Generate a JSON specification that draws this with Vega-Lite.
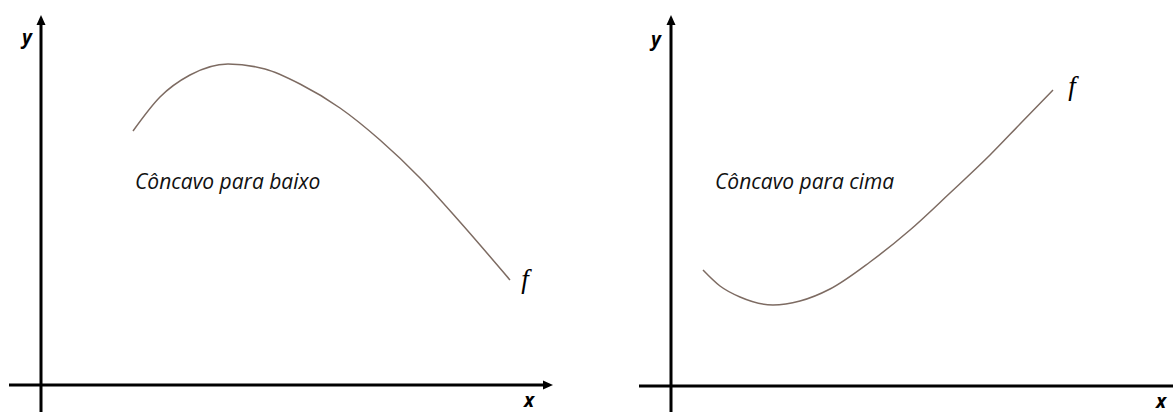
{
  "$schema": "https://vega.github.io/schema/vega-lite/v6.json",
  "padding": 0,
  "spacing": 0,
  "background": "white",
  "config": {"view": {"stroke": null}},
  "hconcat": [
    {
      "width": 600,
      "height": 412,
      "encoding": {
        "x": {"field": "x", "type": "quantitative", "scale": {"domain": [-1.025, 13.975], "nice": false, "zero": false}, "axis": null},
        "y": {"field": "y", "type": "quantitative", "scale": {"domain": [-0.675, 9.625], "nice": false, "zero": false}, "axis": null}
      },
      "layer": [
        {
          "data": {"values": [
            {"x": -0.8, "y": 0, "x2": 12.6, "y2": 0},
            {"x": 0, "y": -0.675, "x2": 0, "y2": 9.1}
          ]},
          "mark": {"type": "rule", "color": "black", "strokeWidth": 3},
          "encoding": {"x2": {"field": "x2"}, "y2": {"field": "y2"}}
        },
        {
          "data": {"values": [{"x": 12.675, "y": 0}]},
          "mark": {"type": "point", "shape": "M-1,-0.9L1,0L-1,0.9Z", "filled": true, "color": "black", "opacity": 1, "size": 100}
        },
        {
          "data": {"values": [{"x": 0, "y": 9.125}]},
          "mark": {"type": "point", "shape": "M-0.9,1L0,-1L0.9,1Z", "filled": true, "color": "black", "opacity": 1, "size": 100}
        },
        {
          "data": {"values": [
            {"x": 2.3, "y": 6.35}, {"x": 2.975, "y": 7.2}, {"x": 3.725, "y": 7.75},
            {"x": 4.675, "y": 8.025}, {"x": 5.6, "y": 7.9}, {"x": 6.475, "y": 7.525},
            {"x": 7.475, "y": 6.925}, {"x": 8.475, "y": 6.125}, {"x": 9.475, "y": 5.175},
            {"x": 10.475, "y": 4.075}, {"x": 11.725, "y": 2.625}
          ]},
          "mark": {"type": "line", "interpolate": "monotone", "color": "#7d6b62", "strokeWidth": 1.5}
        },
        {
          "data": {"values": [{"x": -0.35, "y": 8.675, "label": "y"}, {"x": 12.2, "y": -0.4, "label": "x"}]},
          "mark": {"type": "text", "font": "Open Sans", "fontSize": 19, "fontWeight": "bold", "fontStyle": "italic", "color": "black", "baseline": "middle", "align": "center"},
          "encoding": {"text": {"field": "label"}}
        },
        {
          "data": {"values": [{"x": 2.35, "y": 5.05, "label": "Côncavo para baixo"}]},
          "mark": {"type": "text", "font": "Open Sans", "fontSize": 21, "fontStyle": "italic", "color": "#111111", "baseline": "middle", "align": "left"},
          "encoding": {"text": {"field": "label"}}
        },
        {
          "data": {"values": [{"x": 12.1, "y": 2.625, "label": "f"}]},
          "mark": {"type": "text", "font": "Liberation Serif", "fontSize": 27, "fontStyle": "italic", "color": "black", "baseline": "middle", "align": "center"},
          "encoding": {"text": {"field": "label"}}
        }
      ]
    },
    {
      "width": 573,
      "height": 412,
      "encoding": {
        "x": {"field": "x", "type": "quantitative", "scale": {"domain": [-1.775, 12.55], "nice": false, "zero": false}, "axis": null},
        "y": {"field": "y", "type": "quantitative", "scale": {"domain": [-0.65, 9.65], "nice": false, "zero": false}, "axis": null}
      },
      "layer": [
        {
          "data": {"values": [
            {"x": -0.8, "y": 0, "x2": 12.55, "y2": 0},
            {"x": 0, "y": -0.65, "x2": 0, "y2": 9.1}
          ]},
          "mark": {"type": "rule", "color": "black", "strokeWidth": 3},
          "encoding": {"x2": {"field": "x2"}, "y2": {"field": "y2"}}
        },
        {
          "data": {"values": [{"x": 0, "y": 9.15}]},
          "mark": {"type": "point", "shape": "M-0.9,1L0,-1L0.9,1Z", "filled": true, "color": "black", "opacity": 1, "size": 100}
        },
        {
          "data": {"values": [
            {"x": 0.8, "y": 2.9}, {"x": 1.225, "y": 2.5}, {"x": 1.725, "y": 2.225},
            {"x": 2.55, "y": 2.025}, {"x": 3.225, "y": 2.125}, {"x": 3.975, "y": 2.425},
            {"x": 4.975, "y": 3.1}, {"x": 5.975, "y": 3.9}, {"x": 6.975, "y": 4.825},
            {"x": 7.975, "y": 5.775}, {"x": 8.725, "y": 6.55}, {"x": 9.55, "y": 7.4}
          ]},
          "mark": {"type": "line", "interpolate": "monotone", "color": "#7d6b62", "strokeWidth": 1.5}
        },
        {
          "data": {"values": [{"x": -0.375, "y": 8.65, "label": "y"}, {"x": 12.25, "y": -0.4, "label": "x"}]},
          "mark": {"type": "text", "font": "Open Sans", "fontSize": 19, "fontWeight": "bold", "fontStyle": "italic", "color": "black", "baseline": "middle", "align": "center"},
          "encoding": {"text": {"field": "label"}}
        },
        {
          "data": {"values": [{"x": 1.1, "y": 5.075, "label": "Côncavo para cima"}]},
          "mark": {"type": "text", "font": "Open Sans", "fontSize": 21, "fontStyle": "italic", "color": "#111111", "baseline": "middle", "align": "left"},
          "encoding": {"text": {"field": "label"}}
        },
        {
          "data": {"values": [{"x": 10.025, "y": 7.475, "label": "f"}]},
          "mark": {"type": "text", "font": "Liberation Serif", "fontSize": 27, "fontStyle": "italic", "color": "black", "baseline": "middle", "align": "center"},
          "encoding": {"text": {"field": "label"}}
        }
      ]
    }
  ]
}
